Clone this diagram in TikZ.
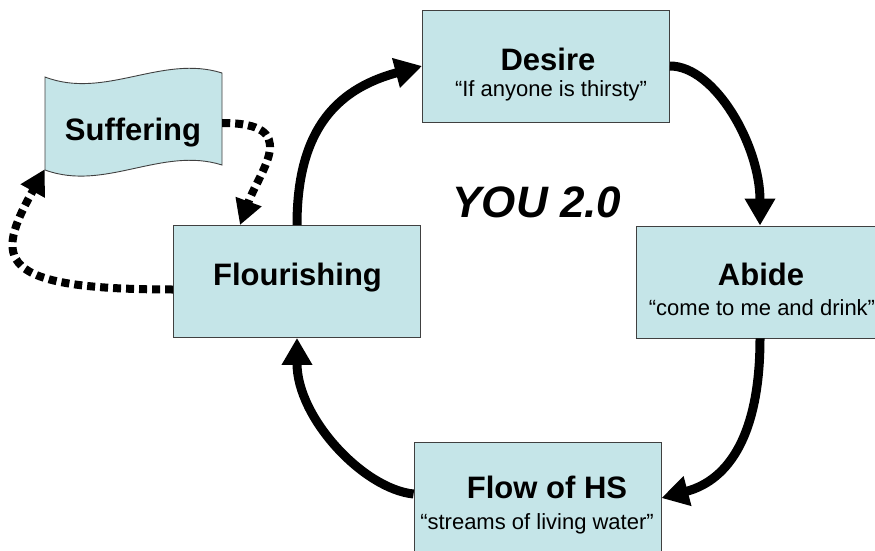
\documentclass[tikz,border=0pt]{standalone}
\usepackage{fontspec}
\setmainfont{Liberation Sans}
\usepackage{tikz}
\usetikzlibrary{arrows.meta}
\definecolor{boxfill}{HTML}{C5E5E8}
\definecolor{boxline}{HTML}{404040}
\tikzset{
  card/.style={draw=boxline, fill=boxfill, line width=0.9pt, minimum width=247pt, minimum height=112pt, inner sep=0pt},
  flagline/.style={draw=boxline, fill=boxfill, line width=0.9pt},
  ttl/.style={font=\bfseries\fontsize{31}{36}\selectfont, anchor=base, inner sep=0pt},
  subline/.style={font=\fontsize{22}{26}\selectfont, anchor=base, inner sep=0pt},
  cyc/.style={line width=9pt, -{Triangle[width=29pt,length=27pt]}},
  detour/.style={line width=8pt, dash pattern=on 8pt off 5pt, -{Triangle[width=26pt,length=25pt]}}
}

\begin{document}
\begin{tikzpicture}[x=1pt, y=1pt]
  \useasboundingbox (0,0) rectangle (875,550);

  % the four stages
  \node[card] (desire) at (546,484) {};
  \node[card] (abide) at (760,268) {};
  \node[card] (flow) at (537.5,52) {};
  \node[card] (flour) at (297,268.5) {};

  \node[ttl] (desireT) at (548,479) {Desire};
  \node[subline] (desireS) at (551,453) {“If anyone is thirsty”};
  \node[ttl] (abideT) at (761,265) {Abide};
  \node[subline] (abideS) at (762,235) {“come to me and drink”};
  \node[ttl] (flowT) at (547,51.5) {Flow of HS};
  \node[subline] (flowS) at (537,21) {“streams of living water”};
  \node[ttl] (flourT) at (297.5,265) {Flourishing};

  % wavy flag
  \draw[flagline] (45,473) .. controls (105,450) and (162,496) .. (222,477)
    -- (222,385) .. controls (162,404) and (105,358) .. (45,380) -- cycle;
  \node[minimum width=177pt, minimum height=92pt, inner sep=0pt] (flag) at (133.5,427) {};
  \node[ttl] (sufferT) at (133,409) {Suffering};

  \node[font=\bfseries\itshape\fontsize{44}{50}\selectfont, anchor=base, inner sep=0pt] (you) at (537,333) {YOU 2.0};

  % cycle
  \draw[cyc] (flour.north) .. controls +(0,90) and +(-90,-24) .. (desire.west);
  \draw[cyc] (desire.east) .. controls +(45,0) and +(0,80) .. (abide.north);
  \draw[cyc] (abide.south) .. controls +(0,-95) and +(68,18) .. (flow.east);
  \draw[cyc] ([yshift=4pt]flow.west) .. controls +(-50,5) and +(0,-80) .. (flour.south);

  % side loop
  \draw[detour] (flag.east) .. controls +(80,0) and +(20.5,56) .. ([xshift=-57pt]flour.north);
  \draw[detour] ([yshift=-8pt]flour.west) .. controls +(-180,0) and +(-50,-90) .. (flag.south west);
\end{tikzpicture}
\end{document}
